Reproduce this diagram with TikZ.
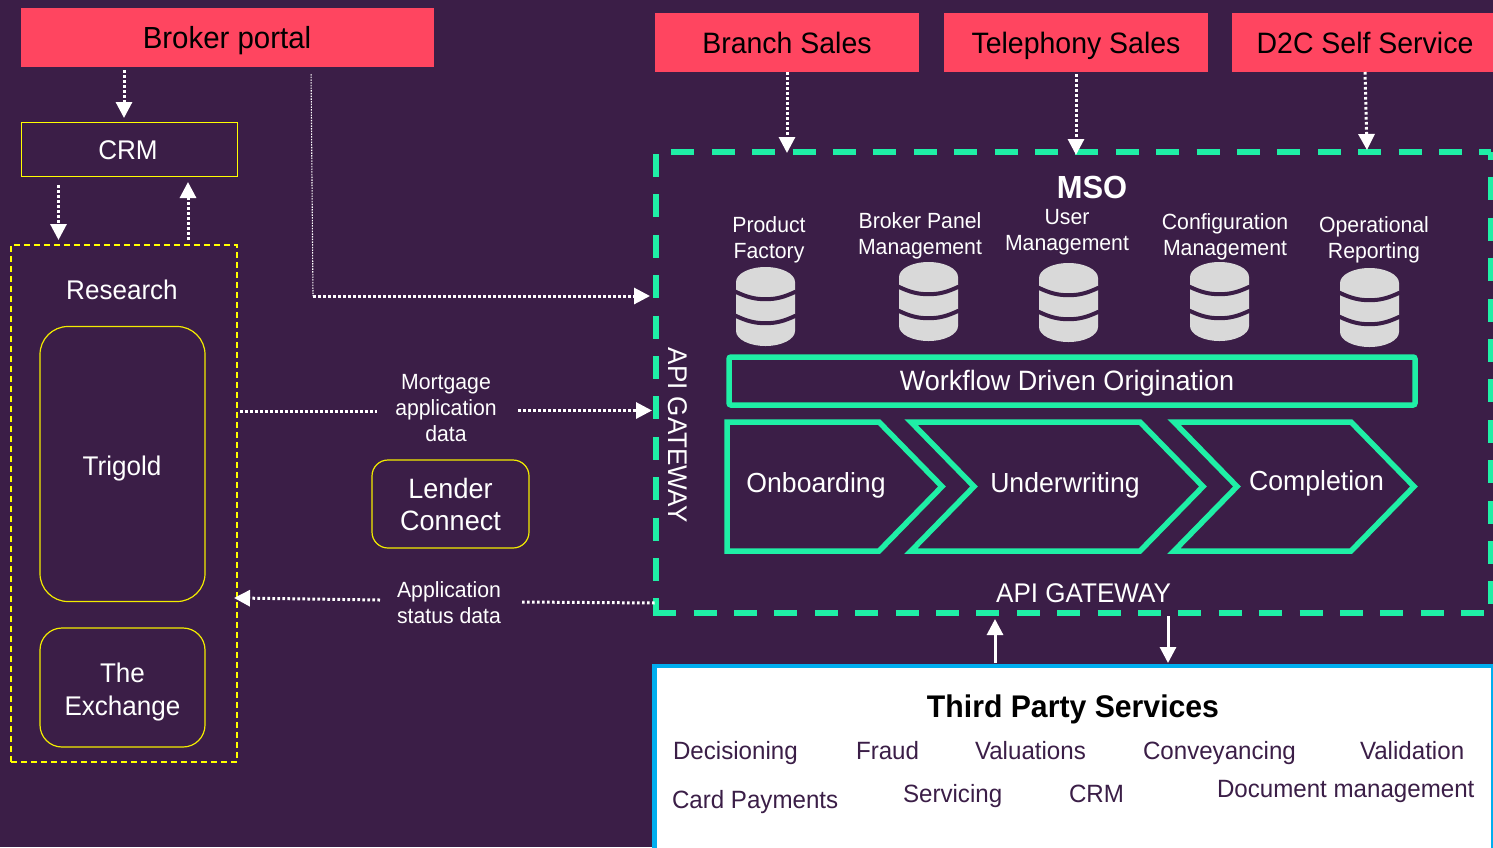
\documentclass[tikz,border=0pt]{standalone}
\usepackage{fontspec}
\setmainfont[FakeStretch=0.965]{Liberation Sans}
\usetikzlibrary{arrows.meta}
\definecolor{bgp}{HTML}{3B1E47}
\definecolor{redb}{HTML}{FF4560}
\definecolor{greenb}{HTML}{1FEFA6}
\definecolor{yellowb}{HTML}{F2EC00}
\definecolor{yellowc}{HTML}{FFFF00}
\definecolor{blueb}{HTML}{00AEEF}
\definecolor{dbgray}{HTML}{D9D9D9}
\newcommand{\fsz}[2]{\fontsize{#1}{#2}\selectfont}
\newcommand{\dbicon}[2]{%
  \fill[dbgray] ({#1-29.5},{#2+15}) .. controls ({#1-29.5},{#2+6.7}) and ({#1-16.2},{#2}) .. ({#1},{#2})
    .. controls ({#1+16.2},{#2}) and ({#1+29.5},{#2+6.7}) .. ({#1+29.5},{#2+15})
    -- ({#1+29.5},{#2+64}) .. controls ({#1+29.5},{#2+72.3}) and ({#1+16.2},{#2+79}) .. ({#1},{#2+79})
    .. controls ({#1-16.2},{#2+79}) and ({#1-29.5},{#2+72.3}) .. ({#1-29.5},{#2+64}) -- cycle;
  \foreach \c in {24.5,48.5}{%
    \draw[bgp,line width=4pt] ({#1-30.5},{#2+\c}) .. controls ({#1-18},{#2+\c+6}) and ({#1-10},{#2+\c+7.7}) .. ({#1},{#2+\c+7.7})
      .. controls ({#1+10},{#2+\c+7.7}) and ({#1+18},{#2+\c+6}) .. ({#1+30.5},{#2+\c});
  }%
}
\tikzset{
  x=1pt,y=-1pt,
  box/.style={inner sep=0pt,outer sep=0pt,align=center},
  redbox/.style={box,fill=redb},
  ybox/.style={box,draw=yellowb,line width=1.2pt,text=white,font=\fsz{27}{33}},
  lbl/.style={inner sep=0pt,outer sep=0pt,text=white,align=center,anchor=base},
  redlbl/.style={lbl,text=black,font=\fsz{29.5}{34}},
  small/.style={lbl,font=\fsz{22}{25.7}},
  big/.style={lbl,font=\fsz{27}{32.5}},
  flow/.style={lbl,font=\fsz{27.6}{32}},
  tpt/.style={inner sep=0pt,outer sep=0pt,text=bgp,anchor=base west,font=\fsz{25}{30}},
  dotline/.style={white,line width=3pt,dash pattern=on 2.6pt off 2.4pt},
  dotarrow/.style={dotline,-{Triangle[length=16pt,width=16pt]}},
  solidarrow/.style={white,line width=3pt,-{Triangle[length=16pt,width=16pt]}},
  gdash/.style={greenb,line width=5.5pt,dash pattern=on 23pt off 17.4pt},
  gline/.style={draw=greenb,line width=5.5pt},
}
\begin{document}
\begin{tikzpicture}
\path[fill=bgp,use as bounding box] (0,0) rectangle (1493,847);
\clip (0,0) rectangle (1493,847);

% channel boxes
\node[redbox,minimum width=413pt,minimum height=59pt] (broker) at (227.5,37.5) {};
\node[redlbl,font=\fsz{30.5}{34}] (brokert) at (227,48) {Broker portal};
\node[redbox,minimum width=264pt,minimum height=59pt] (branch) at (787,42.5) {};
\node[redlbl] (brancht) at (787,53) {Branch Sales};
\node[redbox,minimum width=264pt,minimum height=59pt] (tele) at (1076,42.5) {};
\node[redlbl] (telet) at (1076,53) {Telephony Sales};
\node[redbox,minimum width=266pt,minimum height=59pt] (dtc) at (1365,42.5) {};
\node[redlbl] (dtct) at (1365,53) {D2C Self Service};

% left column
\node[box,draw=yellowc,line width=1pt,minimum width=216pt,minimum height=54pt] (crm) at (129,149) {};
\node[big] (crmt) at (128,159) {CRM};
\node[box,draw=yellowc,line width=1.3pt,dash pattern=on 6pt off 4pt,minimum width=226pt,minimum height=517pt] (research) at (124,503.5) {};
\node[big] (researcht) at (122,299) {Research};
\node[ybox,rounded corners=28pt,minimum width=165pt,minimum height=275pt] (trigold) at (122.5,464) {};
\node[big] (trigoldt) at (122,475) {Trigold};
\node[ybox,rounded corners=22pt,minimum width=165pt,minimum height=119pt] (exchange) at (122.5,687.5) {};
\node[big] (exchanget) at (122.5,715) {The\\Exchange};
\node[ybox,rounded corners=16pt,minimum width=157pt,minimum height=88pt,font=\fsz{28}{32}] (lender) at (450.5,504) {Lender\\Connect};
\node[small] (mortgage) at (446,441) {Mortgage\\application\\data};
\node[small] (appstatus) at (449,623) {Application\\status data};

% MSO frame
\node[box,minimum width=835pt,minimum height=461pt] (mso) at (1073.5,382.5) {};
\draw[gdash,dash phase=25pt] (mso.north west) -- (mso.north east);
\draw[gdash,dash phase=38.4pt] (mso.north west) -- (mso.south west);
\draw[gdash] ([xshift=-2.75pt]mso.south west) -- (mso.south east);
\draw[gdash,dash phase=15pt] (mso.north east) -- (mso.south east);

\node[lbl,font=\bfseries\fsz{32}{34}] (msot) at (1092,198) {MSO};
\node[small] (pf) at (769,258) {Product\\Factory};
\node[small] (bpm) at (920,254) {Broker Panel\\Management};
\node[small] (um) at (1067,250) {User\\Management};
\node[small] (cm) at (1225,255) {Configuration\\Management};
\node[small] (or) at (1374,258) {Operational\\Reporting};
\dbicon{765.5}{267}
\dbicon{928.5}{262}
\dbicon{1068.5}{263}
\dbicon{1219.5}{262}
\dbicon{1369.5}{268}

\node[box,gline,rounded corners=2pt,minimum width=686pt,minimum height=48pt] (wf) at (1072,381) {};
\node[lbl,font=\fsz{28}{32}] (wft) at (1067,390) {Workflow Driven Origination};

\draw[gline] (727,422) -- (879,422) -- (942,486.5) -- (879,551) -- (727,551) -- cycle;
\draw[gline] (911,422) -- (1140,422) -- (1203,486.5) -- (1140,551) -- (911,551) -- (974,486.5) -- cycle;
\draw[gline] (1174,422) -- (1351,422) -- (1414,486.5) -- (1351,551) -- (1174,551) -- (1237,486.5) -- cycle;
\node[flow] (onb) at (816,492) {Onboarding};
\node[flow] (und) at (1065,492) {Underwriting};
\node[flow] (com) at (1316.5,490.5) {Completion};

\node[lbl,font=\fsz{27}{32},anchor=center,rotate=-90] (apiv) at (677.5,435) {API GATEWAY};
\node[big] (apih) at (1083.5,602) {API GATEWAY};

% third party
\node[box,fill=white,draw=blueb,line width=4.5pt,minimum width=838.5pt,minimum height=234pt] (tp) at (1073.5,783) {};
\node[lbl,text=black,font=\bfseries\fsz{31.3}{36}] (tpt) at (1073,717) {Third Party Services};
\node[tpt] (s1) at (673,759) {Decisioning};
\node[tpt] (s2) at (856,759) {Fraud};
\node[tpt] (s3) at (975,759) {Valuations};
\node[tpt] (s4) at (1143,759) {Conveyancing};
\node[tpt] (s5) at (1360,759) {Validation};
\node[tpt] (s6) at (672,808) {Card Payments};
\node[tpt] (s7) at (903,802) {Servicing};
\node[tpt] (s8) at (1069,802) {CRM};
\node[tpt] (s9) at (1217,797) {Document management};

% connector guides
\coordinate (gA) at (124,100);
\coordinate (gB) at (58.5,200);
\coordinate (gC) at (188,200);
\coordinate (gD) at (311,100);
\coordinate (bend) at (313,296);
\coordinate (gE) at (787,100);
\coordinate (gF) at (1076,100);
\coordinate (gG) at (1367,100);
\coordinate (gH) at (0,411);
\coordinate (gP) at (377,411);
\coordinate (gQ) at (518,410.5);
\coordinate (gR) at (380,600);
\coordinate (gK) at (0,598);
\coordinate (gS) at (522,602);
\coordinate (gM) at (0,603);
\coordinate (gN) at (995,640);
\coordinate (gO) at (1168,640);

% connectors
\draw[dotarrow,shorten <=3pt,shorten >=4pt] (broker.south -| gA) -- (crm.north -| gA);
\draw[dotarrow,shorten <=9pt,shorten >=5pt] (crm.south -| gB) -- (research.north -| gB);
\draw[dotarrow,shorten <=5pt,shorten >=6pt] (research.north -| gC) -- (crm.south -| gC);
\draw[white,line width=1.1pt,dash pattern=on 1.5pt off 1.2pt,shorten <=7pt] (broker.south -| gD) -- (bend);
\draw[dotarrow,shorten >=6pt] (bend) -- (mso.west |- bend);
\draw[dotarrow,shorten >=-1pt] (branch.south -| gE) -- (mso.north -| gE);
\draw[dotarrow,shorten <=2pt,shorten >=-3pt] (tele.south -| gF) -- (mso.north -| gF);
\draw[dotarrow,shorten >=2pt] (dtc.south) -- (mso.north -| gG);
\draw[dotline,shorten <=3pt] (research.east |- gH) -- (gP);
\draw[dotarrow,shorten >=4pt] (gQ) -- (mso.west |- gQ);
\draw[dotarrow,shorten >=-3pt] (gR) -- (research.east |- gK);
\draw[dotline] (gS) -- (mso.west |- gM);
\draw[solidarrow,shorten <=3pt,shorten >=6pt] (tp.north -| gN) -- (mso.south -| gN);
\draw[solidarrow,shorten <=3pt,shorten >=3pt] (mso.south -| gO) -- (tp.north -| gO);
\end{tikzpicture}
\end{document}
